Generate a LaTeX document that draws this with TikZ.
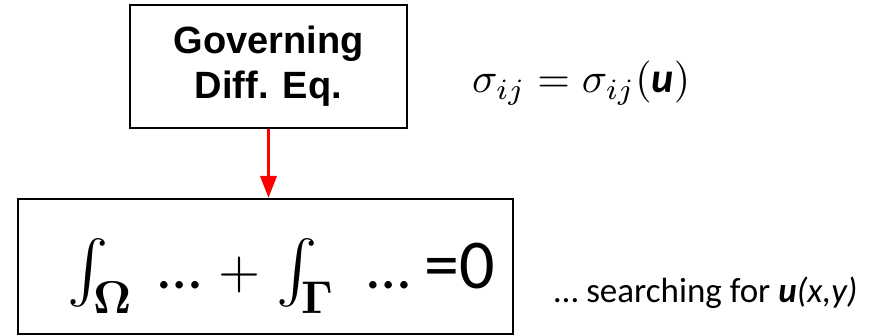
\documentclass[tikz,border=0pt]{standalone}
\usepackage{amsmath,bm}
\usepackage{graphicx}
\usepackage{fontspec}
\newfontfamily\calib{Carlito}
\newfontfamily\arialb{Liberation Sans}
\usetikzlibrary{arrows.meta}
\tikzset{
  boxstyle/.style={draw=black,line width=2pt,inner sep=0pt},
  piece/.style={inner sep=0pt,anchor=base west},
  redarrow/.style={draw=red,line width=3.5pt,-{Triangle[width=16pt,length=22pt]}}
}
\begin{document}
\begin{tikzpicture}[x=1pt,y=-1pt]
\useasboundingbox (0,0) rectangle (874,336);
% top box
\node[boxstyle,minimum width=277pt,minimum height=123pt] (gov) at (268.5,66.5) {};
\node[inner sep=0pt,align=center,font=\arialb\bfseries\fontsize{38}{45}\selectfont] (govtext) at (268.5,66) {Governing\\Diff. Eq.};
% bottom box
\node[boxstyle,minimum width=495pt,minimum height=135pt] (weak) at (265.5,266.5) {};
\draw[redarrow] (gov.south) -- (gov.south |- weak.north);
% pieces of the weak form
\node[piece] (int1) at (67,288) {\scalebox{6.2}{$\int$}};
\node[piece] (om) at (93,313) {\scalebox{4.6}{$\boldsymbol{\Omega}$}};
\node[piece] (d1) at (158,288) {\calib\fontsize{62}{62}\selectfont …};
\node[piece] (plus) at (218,288) {\scalebox{5.4}{$+$}};
\node[piece] (int2) at (276,288) {\scalebox{6.2}{$\int$}};
\node[piece] (ga) at (301,313) {\scalebox{4.6}{$\boldsymbol{\Gamma}$}};
\node[piece] (d2) at (367,288) {\calib\fontsize{62}{62}\selectfont …};
\node[piece] (eqz) at (424,288) {\calib\fontsize{70}{70}\selectfont =0};
% sigma relation
\node[piece] (sig) at (472,93) {\scalebox{4.2}{$\sigma_{ij}=\sigma_{ij}(\text{\calib\bfseries\itshape u})$}};
% searching
\node[piece] (search) at (554,302) {\calib\fontsize{35}{35}\selectfont … searching for \textbf{\textit{u}}\textit{(x,y)}};
\end{tikzpicture}
\end{document}
